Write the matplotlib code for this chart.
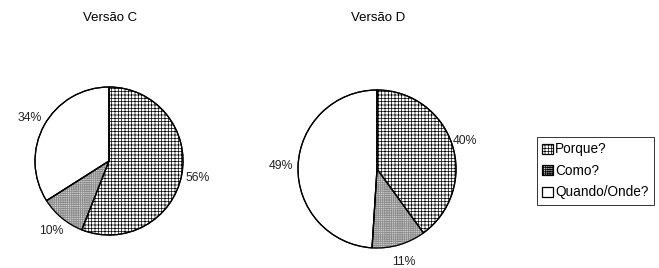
import matplotlib
matplotlib.use("Agg")
import matplotlib.pyplot as plt

plt.rcParams['font.family'] = ['Liberation Sans', 'DejaVu Sans']
plt.rcParams['hatch.linewidth'] = 0.5

categories = ["Porque?", "Como?", "Quando/Onde?"]
versao_c = [56, 10, 34]
versao_d = [40, 11, 49]
hatches = ['+++++', '+++++++++', '']
faces = ['white', '#d0d0d0', 'white']
hatch_cols = ['black', '#8c8c8c', 'black']

W, H = 659, 268
fig = plt.figure(figsize=(W / 100, H / 100), dpi=100)
fig.patch.set_facecolor('white')


def pie_axes(cx, cy, r):
    # pixel centre/radius -> figure fraction axes
    return fig.add_axes([(cx - r) / W, (H - cy - r) / H, 2 * r / W, 2 * r / H])


def draw_pie(ax, values):
    # filled + hatched wedges; hatch takes the edge colour
    wedges, texts, autotexts = ax.pie(
        values, startangle=90, counterclock=False, colors=faces,
        autopct='%d%%', pctdistance=1.22,
        wedgeprops=dict(linewidth=0.9),
        textprops=dict(fontsize=8.8, color='#222222'))
    for w, h, hc in zip(wedges, hatches, hatch_cols):
        w.set_hatch(h)
        w.set_edgecolor(hc)
    # black outlines on top
    ax.pie(values, startangle=90, counterclock=False,
           wedgeprops=dict(facecolor='none', edgecolor='black', linewidth=0.9))
    ax.set_xlim(-1, 1)
    ax.set_ylim(-1, 1)
    ax.axis('off')
    return wedges, autotexts


ax1 = pie_axes(109, 161, 74)
wedges, _ = draw_pie(ax1, versao_c)

ax2 = pie_axes(377, 169, 79)
_, auto_d = draw_pie(ax2, versao_d)
auto_d[0].set_position((1.12, 0.36))

fig.text(110 / W, 1 - 18 / H, "Versão C", ha='center', va='center', fontsize=9.5)
fig.text(378 / W, 1 - 18 / H, "Versão D", ha='center', va='center', fontsize=9.5)

leg = fig.legend(wedges, categories, loc='upper left',
                 bbox_to_anchor=(537 / W, 1 - 137 / H),
                 fontsize=9.8, frameon=True, fancybox=False,
                 handlelength=0.75, handleheight=0.75, handletextpad=0.2,
                 labelspacing=0.55, borderpad=0.4, borderaxespad=0)
leg.get_frame().set_edgecolor('black')
leg.get_frame().set_linewidth(0.7)
for h in leg.legend_handles:
    h.set_edgecolor('black')

fig.savefig("out.png", dpi=100, facecolor='white')
